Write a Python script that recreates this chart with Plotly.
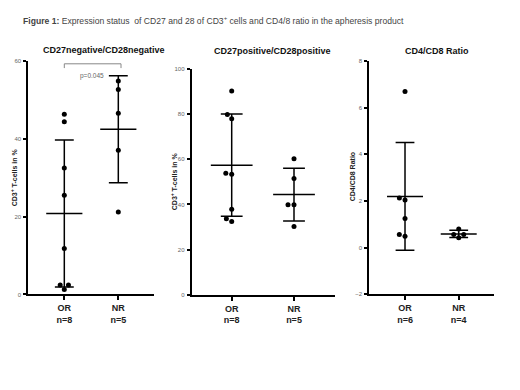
import numpy as np
import plotly.graph_objects as go

# ---------------- data ----------------
groups = ["OR", "NR"]
cd27neg_OR = [46.3, 44.4, 32.5, 25.5, 11.8, 2.4, 2.4, 1.3]
cd27neg_NR = [54.9, 52.7, 46.6, 37.1, 21.2]
cd27pos_OR = [90.1, 79.7, 77.9, 53.8, 53.3, 37.9, 33.7, 32.5]
cd27pos_NR = [60.2, 51.5, 39.9, 39.9, 30.2]
ratio_OR = [6.69, 2.13, 2.04, 1.25, 0.56, 0.48]
ratio_NR = [0.80, 0.56, 0.56, 0.42]

panel_titles = ["CD27negative/CD28negative", "CD27positive/CD28positive", "CD4/CD8 Ratio"]
y_titles = ["CD3<sup>+</sup> T-cells in %", "CD3<sup>+</sup> T-cells in %", "CD4/CD8 Ratio"]
y_ticks = [[0, 20, 40, 60], [0, 20, 40, 60, 80, 100], [-2, 0, 2, 4, 6, 8]]
p_text = "p=0.045"
fig_title = ("<b>Figure 1:</b> Expression status  of CD27 and 28 of CD3<sup>+</sup> "
             "cells and CD4/8 ratio in the apheresis product")

panel_data = [
    [cd27neg_OR, cd27neg_NR],
    [cd27pos_OR, cd27pos_NR],
    [ratio_OR, ratio_NR],
]

# ---------------- layout geometry (pixels) ----------------
W, H = 520, 390
FONT = "Liberation Sans, Arial, sans-serif"
geom = [
    dict(x0=28.3, x1=154.0, yb=296.0, yt=59.0, xr=[0.333, 2.661], yr=[0, 60],
         title_xy=(104, 48), ytitle_xy=(14, 177)),
    dict(x0=191.7, x1=335.0, yb=296.5, yt=66.7, xr=[0.358, 2.658], yr=[0, 100],
         title_xy=(272, 49), ytitle_xy=(174, 181)),
    dict(x0=369.3, x1=494.0, yb=295.7, yt=59.0, xr=[0.335, 2.657], yr=[-2, 8],
         title_xy=(437, 48.5), ytitle_xy=(352, 177)),
]
MEAN_HW = 0.335   # half width of mean line (x units)
CAP_HW = 0.175    # half width of SD caps
DOT = 5.0
COLLIDE = 6.0


def swarm(vals, ppy, ppx, d=COLLIDE):
    vals = np.asarray(vals, float)
    order = np.argsort(vals, kind="stable")
    placed = []
    offs = np.zeros(len(vals))
    for i in order:
        y = vals[i] * ppy
        cands = [0.0]
        for (px, py) in placed:
            dy = abs(y - py)
            if dy < d:
                dx = np.sqrt(d * d - dy * dy)
                cands += [px - dx, px + dx]
        valid = [c for c in cands
                 if all(np.hypot(c - px, y - py) >= d - 1e-6 for px, py in placed)]
        best = min(valid, key=lambda c: (abs(c), c))
        placed.append((best, y))
        offs[i] = best / ppx
    return offs


fig = go.Figure()
layout = dict(
    width=W, height=H, margin=dict(l=0, r=0, t=0, b=0),
    paper_bgcolor="white", plot_bgcolor="white",
    showlegend=False, font=dict(family=FONT, color="black"),
    annotations=[], shapes=[],
)

for k, (g, data) in enumerate(zip(geom, panel_data)):
    sfx = "" if k == 0 else str(k + 1)
    xa, ya = "x" + sfx, "y" + sfx
    ppx = (g["x1"] - g["x0"]) / (g["xr"][1] - g["xr"][0])
    ppy = (g["yb"] - g["yt"]) / (g["yr"][1] - g["yr"][0])

    xs, ys = [], []
    lx, ly = [], []
    for gi, vals in enumerate(data):
        cx = gi + 1
        offs = swarm(vals, ppy, ppx)
        xs += list(cx + offs)
        ys += list(vals)
        m = float(np.mean(vals))
        s = float(np.std(vals, ddof=1))
        lx += [cx, cx, None,
               cx - CAP_HW, cx + CAP_HW, None,
               cx - CAP_HW, cx + CAP_HW, None,
               cx - MEAN_HW, cx + MEAN_HW, None]
        ly += [m - s, m + s, None,
               m + s, m + s, None,
               m - s, m - s, None,
               m, m, None]

    fig.add_trace(go.Scatter(x=lx, y=ly, mode="lines", xaxis=xa, yaxis=ya,
                             line=dict(color="black", width=1.5),
                             hoverinfo="skip"))
    fig.add_trace(go.Scatter(x=xs, y=ys, mode="markers", xaxis=xa, yaxis=ya,
                             marker=dict(color="black", size=DOT)))

    ticktext = [f"<b>{grp}</b><br><b>n={len(v)}</b>" for grp, v in zip(groups, data)]
    layout["xaxis" + sfx] = dict(
        domain=[g["x0"] / W, g["x1"] / W], range=g["xr"], anchor=ya,
        showgrid=False, zeroline=False, showline=True, linecolor="black",
        linewidth=2, ticks="outside", ticklen=4, tickwidth=2, tickcolor="black",
        tickvals=[1, 2], ticktext=ticktext,
        tickfont=dict(size=9, color="#222", family=FONT), fixedrange=True,
    )
    layout["yaxis" + sfx] = dict(
        domain=[1 - g["yb"] / H, 1 - g["yt"] / H], range=g["yr"], anchor=xa,
        showgrid=False, zeroline=False, showline=True, linecolor="black",
        linewidth=2, ticks="outside", ticklen=3, tickwidth=1.5, tickcolor="black",
        tickvals=y_ticks[k], tickfont=dict(size=6, color="#666", family=FONT),
        ticklabelstandoff=1, fixedrange=True,
    )
    tx, ty = g["title_xy"]
    layout["annotations"].append(dict(
        text="<b>" + panel_titles[k] + "</b>", x=tx / W, y=1 - ty / H,
        xref="paper", yref="paper", showarrow=False, xanchor="center",
        yanchor="middle", font=dict(size=9, color="#111", family=FONT)))
    yx, yy = g["ytitle_xy"]
    layout["annotations"].append(dict(
        text="<b>" + y_titles[k] + "</b>", x=yx / W, y=1 - yy / H,
        xref="paper", yref="paper", showarrow=False, textangle=-90,
        xanchor="center", yanchor="middle",
        font=dict(size=7, color="#222", family=FONT)))

# significance bracket in panel 1
BR_TOP, BR_TICK = 59.3, 58.2
layout["shapes"].append(dict(
    type="path", xref="x", yref="y",
    path=f"M 1,{BR_TICK} L 1,{BR_TOP} L 2.05,{BR_TOP} L 2.05,{BR_TICK}",
    line=dict(color="#888", width=1)))
layout["annotations"].append(dict(
    text=p_text, x=1.52, y=56.2, xref="x", yref="y", showarrow=False,
    xanchor="center", yanchor="middle",
    font=dict(size=6.5, color="#666", family=FONT)))

# figure title
layout["annotations"].append(dict(
    text=fig_title, x=20.7 / W, y=1 - 17.3 / H, xref="paper", yref="paper",
    showarrow=False, xanchor="left", yanchor="middle",
    font=dict(size=8.6, color="#444", family=FONT)))

fig.update_layout(**layout)
fig.write_html("out.html", config={"displayModeBar": False},
               post_script="document.body.style.margin='0';")
